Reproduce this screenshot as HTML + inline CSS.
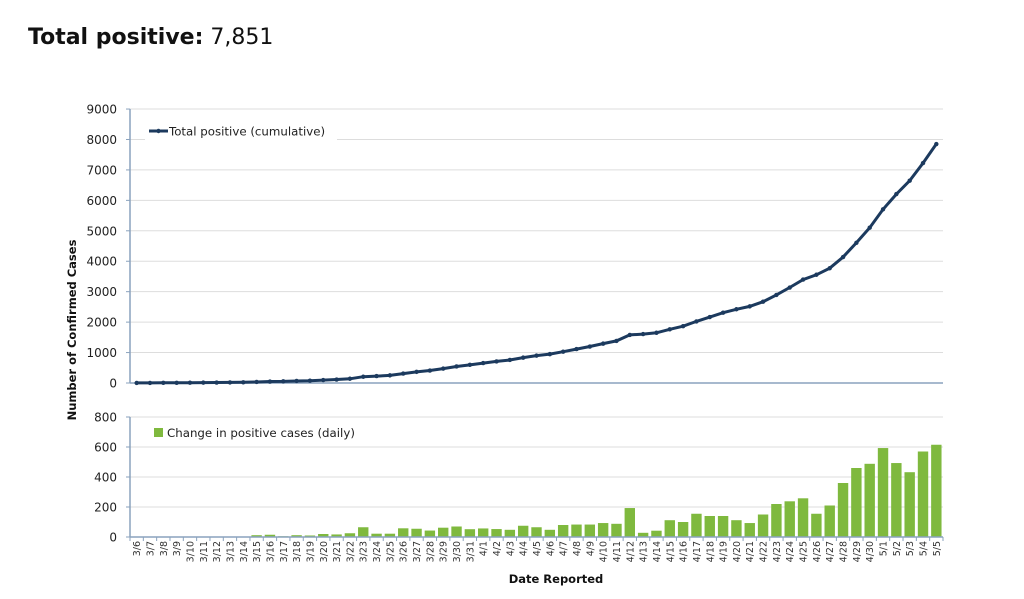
<!DOCTYPE html>
<html><head><meta charset="utf-8"><style>
body{margin:0;background:#fff;width:1024px;height:594px;overflow:hidden}
svg text{font-family:"DejaVu Sans","Liberation Sans",sans-serif}
</style></head><body>
<svg id="s" width="1024" height="594" xmlns="http://www.w3.org/2000/svg">
<text x="28" y="44" font-size="22" fill="#111"><tspan font-weight="bold">Total positive:</tspan> 7,851</text>
</svg>
<script>
const d=[3,0,3,0,3,3,3,3,3,12,15,5,12,10,20,17,25,65,22,22,58,55,43,62,70,52,57,53,48,75,65,48,80,83,83,93,88,193,28,42,112,100,155,140,140,112,93,150,220,238,258,155,210,360,460,488,593,493,432,570,615];
const lab=[];{let m=3,dd=6;const ml={3:31,4:30};for(let i=0;i<61;i++){lab.push(m+"/"+dd);dd++;if(dd>ml[m]){dd=1;m++;}}}
let sum=d.reduce((a,b)=>a+b,0);const k=7851/sum;
let cum=[],c=0;for(const v of d){c+=v;cum.push(c*k);}
const X0=130,X1=943,W=(X1-X0)/61;
const cx=i=>X0+W*(i+0.5);
let s="";
const T0=383,TS=30.44/1000;
for(let v=1000;v<=9000;v+=1000){const y=T0-v*TS;s+=`<line x1="${X0}" x2="${X1}" y1="${y}" y2="${y}" stroke="#ddd" stroke-width="1"/>`;}
for(let v=0;v<=9000;v+=1000){const y=T0-v*TS;s+=`<text x="117" y="${y+4.5}" font-size="12" text-anchor="end" fill="#222">${v}</text><line x1="126" x2="${X0}" y1="${y}" y2="${y}" stroke="#8aa2bd"/>`;}
s+=`<rect x="145" y="122" width="192" height="18" fill="#fff"/>`;
s+=`<line x1="${X0}" x2="${X0}" y1="${T0-9000*TS}" y2="${T0}" stroke="#8aa2bd" stroke-width="1.5"/><line x1="${X0}" x2="${X1}" y1="${T0}" y2="${T0}" stroke="#8aa2bd" stroke-width="1.5"/>`;
let p=cum.map((v,i)=>`${cx(i).toFixed(1)},${(T0-v*TS).toFixed(1)}`).join(" ");
s+=`<polyline points="${p}" fill="none" stroke="#1c3a5e" stroke-width="3"/>`;
cum.forEach((v,i)=>{s+=`<circle cx="${cx(i)}" cy="${T0-v*TS}" r="2.2" fill="#1c3a5e"/>`;});
s+=`<line x1="149" x2="168" y1="131" y2="131" stroke="#1c3a5e" stroke-width="3"/><circle cx="158.5" cy="131" r="2.2" fill="#1c3a5e"/><text x="169" y="135.5" font-size="11.8" fill="#222">Total positive (cumulative)</text>`;
const B0=537,BS=30/200;
for(let v=200;v<=800;v+=200){const y=B0-v*BS;s+=`<line x1="${X0}" x2="${X1}" y1="${y}" y2="${y}" stroke="#ddd"/>`;}
for(let v=0;v<=800;v+=200){const y=B0-v*BS;s+=`<text x="117" y="${y+4.5}" font-size="12" text-anchor="end" fill="#222">${v}</text><line x1="126" x2="${X0}" y1="${y}" y2="${y}" stroke="#8aa2bd"/>`;}
d.forEach((v,i)=>{const h=v*BS;s+=`<rect x="${cx(i)-5.2}" y="${B0-h}" width="10.4" height="${h}" fill="#7fb93e"/>`;});
s+=`<line x1="${X0}" x2="${X0}" y1="${B0-800*BS}" y2="${B0}" stroke="#8aa2bd" stroke-width="1.5"/><line x1="${X0}" x2="${X1}" y1="${B0}" y2="${B0}" stroke="#8aa2bd" stroke-width="1.5"/>`;
for(let i=0;i<=61;i++){const x=X0+W*i;s+=`<line x1="${x}" x2="${x}" y1="${B0}" y2="${B0+4}" stroke="#8aa2bd"/>`;}
s+=`<rect x="154" y="428" width="9" height="9" fill="#7fb93e"/><text x="167" y="437" font-size="11.8" fill="#222">Change in positive cases (daily)</text>`;
lab.forEach((l,i)=>{const x=cx(i)+3.5,y=541;s+=`<text transform="translate(${x},${y}) rotate(-90)" font-size="9.5" text-anchor="end" fill="#333">${l}</text>`;});
s+=`<text x="556" y="583" font-size="11.5" font-weight="bold" text-anchor="middle" fill="#111">Date Reported</text>`;
s+=`<text transform="translate(76,330) rotate(-90)" font-size="11.5" font-weight="bold" text-anchor="middle" fill="#111">Number of Confirmed Cases</text>`;
document.getElementById("s").insertAdjacentHTML("beforeend",s);
</script>
</body></html>
